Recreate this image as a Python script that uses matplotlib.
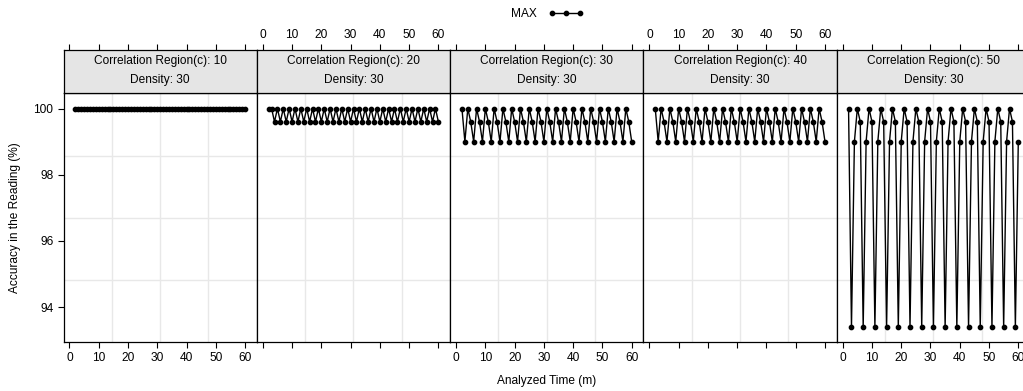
import matplotlib
matplotlib.use("Agg")
import matplotlib.pyplot as plt
from matplotlib.lines import Line2D

plt.rcParams["font.family"] = ["Liberation Sans", "DejaVu Sans"]
plt.rcParams["font.size"] = 8.6

# ---- data ----
regions = [10, 20, 30, 40, 50]
density = 30

time_min = [
    2, 3, 4, 5, 6, 7, 8, 9, 10, 11,
    12, 13, 14, 15, 16, 17, 18, 19, 20, 21,
    22, 23, 24, 25, 26, 27, 28, 29, 30, 31,
    32, 33, 34, 35, 36, 37, 38, 39, 40, 41,
    42, 43, 44, 45, 46, 47, 48, 49, 50, 51,
    52, 53, 54, 55, 56, 57, 58, 59, 60,
]

acc_c10 = [
    100, 100, 100, 100, 100, 100, 100, 100, 100, 100,
    100, 100, 100, 100, 100, 100, 100, 100, 100, 100,
    100, 100, 100, 100, 100, 100, 100, 100, 100, 100,
    100, 100, 100, 100, 100, 100, 100, 100, 100, 100,
    100, 100, 100, 100, 100, 100, 100, 100, 100, 100,
    100, 100, 100, 100, 100, 100, 100, 100, 100,
]

acc_c20 = [
    100, 100, 99.6, 100, 99.6, 100, 99.6, 100, 99.6, 100,
    99.6, 100, 99.6, 100, 99.6, 100, 99.6, 100, 99.6, 100,
    99.6, 100, 99.6, 100, 99.6, 100, 99.6, 100, 99.6, 100,
    99.6, 100, 99.6, 100, 99.6, 100, 99.6, 100, 99.6, 100,
    99.6, 100, 99.6, 100, 99.6, 100, 99.6, 100, 99.6, 100,
    99.6, 100, 99.6, 100, 99.6, 100, 99.6, 100, 99.6,
]

acc_c30 = [
    100, 99.0, 100, 99.6, 99.0, 100, 99.6, 99.0, 100, 99.6,
    99.0, 100, 99.6, 99.0, 100, 99.6, 99.0, 100, 99.6, 99.0,
    100, 99.6, 99.0, 100, 99.6, 99.0, 100, 99.6, 99.0, 100,
    99.6, 99.0, 100, 99.6, 99.0, 100, 99.6, 99.0, 100, 99.6,
    99.0, 100, 99.6, 99.0, 100, 99.6, 99.0, 100, 99.6, 99.0,
    100, 99.6, 99.0, 100, 99.6, 99.0, 100, 99.6, 99.0,
]

acc_c40 = [
    100, 99.0, 100, 99.6, 99.0, 100, 99.6, 99.0, 100, 99.6,
    99.0, 100, 99.6, 99.0, 100, 99.6, 99.0, 100, 99.6, 99.0,
    100, 99.6, 99.0, 100, 99.6, 99.0, 100, 99.6, 99.0, 100,
    99.6, 99.0, 100, 99.6, 99.0, 100, 99.6, 99.0, 100, 99.6,
    99.0, 100, 99.6, 99.0, 100, 99.6, 99.0, 100, 99.6, 99.0,
    100, 99.6, 99.0, 100, 99.6, 99.0, 100, 99.6, 99.0,
]

acc_c50 = [
    100, 93.4, 99.0, 100, 99.6, 93.4, 99.0, 100, 99.6, 93.4,
    99.0, 100, 99.6, 93.4, 99.0, 100, 99.6, 93.4, 99.0, 100,
    99.6, 93.4, 99.0, 100, 99.6, 93.4, 99.0, 100, 99.6, 93.4,
    99.0, 100, 99.6, 93.4, 99.0, 100, 99.6, 93.4, 99.0, 100,
    99.6, 93.4, 99.0, 100, 99.6, 93.4, 99.0, 100, 99.6, 93.4,
    99.0, 100, 99.6, 93.4, 99.0, 100, 99.6, 93.4, 99.0,
]

panels = [acc_c10, acc_c20, acc_c30, acc_c40, acc_c50]
x_ticks = [0, 10, 20, 30, 40, 50, 60]
y_ticks = [94, 96, 98, 100]

# ---- layout (pixel geometry of a lattice-style strip plot) ----
W, H = 1023, 391
fig = plt.figure(figsize=(W / 100, H / 100), dpi=100)

XLIM = (-2.05, 64.0)
YLIM = (92.94, 100.46)
px_left, px_w = 63.5, 193.3
pan_top, pan_bot = 93.3, 342.3
strip_top = 50.0
tick_len = 4.3
grid_col = "#E8E8E8"

for i, (c, acc) in enumerate(zip(regions, panels)):
    left = (px_left + i * px_w) / W
    ax = fig.add_axes([left, 1 - pan_bot / H, px_w / W, (pan_bot - pan_top) / H])
    st = fig.add_axes([left, 1 - pan_top / H, px_w / W, (pan_top - strip_top) / H])

    ax.set_xlim(*XLIM)
    ax.set_ylim(*YLIM)
    # light reference grid at quarters of the panel range
    for k in (1, 2, 3):
        ax.axvline(XLIM[0] + k * (XLIM[1] - XLIM[0]) / 4, color=grid_col, lw=1, zorder=0)
        ax.axhline(YLIM[0] + k * (YLIM[1] - YLIM[0]) / 4, color=grid_col, lw=1, zorder=0)

    ax.plot(time_min, acc, color="black", lw=1.0, marker="o", ms=3.1, zorder=3)

    for s in ax.spines.values():
        s.set_linewidth(0.9)
    ax.set_xticks(x_ticks)
    ax.tick_params(axis="x", direction="out", length=tick_len, width=0.8, pad=2.5,
                   labelbottom=(i % 2 == 0))
    if i == 0:
        ax.set_yticks(y_ticks)
        ax.tick_params(axis="y", direction="out", length=tick_len, width=0.8, pad=3)
    else:
        ax.set_yticks([])

    # strip with the panel title and the top tick marks
    st.set_facecolor("#E5E5E5")
    st.set_xlim(*XLIM)
    st.set_ylim(0, 1)
    st.set_yticks([])
    st.set_xticks(x_ticks)
    st.xaxis.tick_top()
    st.tick_params(axis="x", direction="out", length=tick_len, width=0.8, pad=2.5,
                   labeltop=(i % 2 == 1))
    for s in st.spines.values():
        s.set_linewidth(0.9)
    st.text(0.5, 0.745, f"Correlation Region(c): {c}", transform=st.transAxes,
            ha="center", va="center")
    st.text(0.5, 0.305, f"Density: {density}", transform=st.transAxes,
            ha="center", va="center")

fig.text(547 / W, 1 - 381 / H, "Analyzed Time (m)", ha="center", va="center")
fig.text(15 / W, 1 - 217.8 / H, "Accuracy in the Reading (%)", ha="center",
         va="center", rotation=90)

key = Line2D([], [], color="black", lw=1.0, marker="o", ms=3.1)
fig.legend(handles=[key], labels=["MAX"], numpoints=3, markerfirst=False,
           frameon=False, loc="center", bbox_to_anchor=(547 / W, 1 - 14 / H),
           handlelength=2.9, handletextpad=1.0, borderpad=0)

fig.savefig("out.png", dpi=100, facecolor="white")
